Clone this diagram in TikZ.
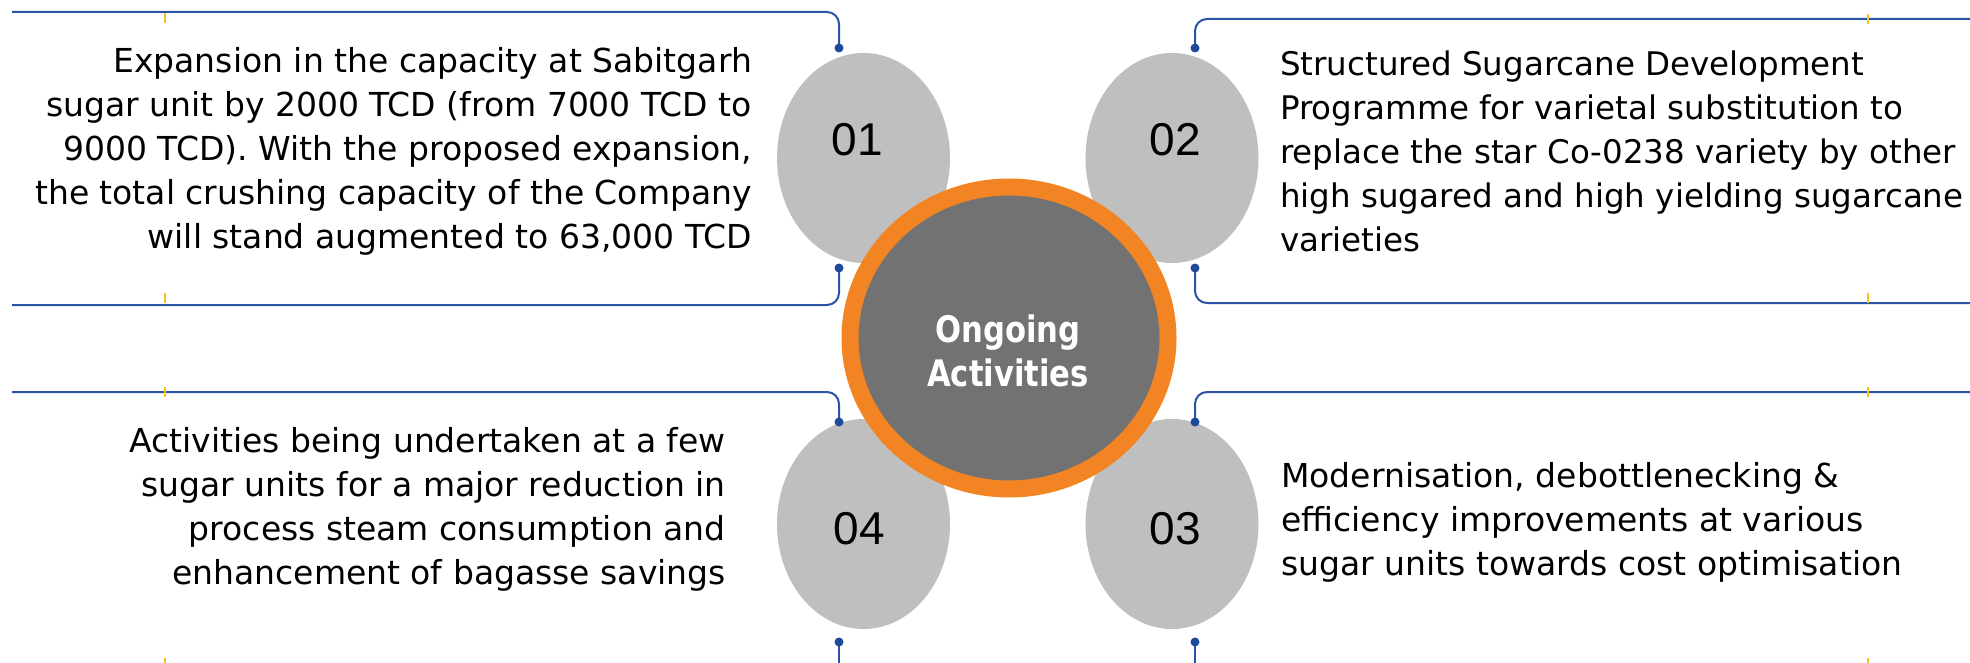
\documentclass[tikz,border=0pt]{standalone}
\usepackage{fontspec}
\setmainfont{DejaVu Sans}
\newfontfamily\numfont{Liberation Sans}
\newfontfamily\hubfont{DejaVu Sans}[FakeStretch=0.84]
\usetikzlibrary{shapes.geometric}

\definecolor{linkblue}{HTML}{2A53A5}
\definecolor{dotblue}{HTML}{1F4A9C}
\definecolor{tickyellow}{HTML}{F5C518}
\definecolor{petalgray}{HTML}{BFBFBF}
\definecolor{hubgray}{HTML}{727272}
\definecolor{huborange}{HTML}{F28423}

\tikzset{
  petal/.style={ellipse,fill=petalgray,minimum width=173pt,minimum height=210pt,inner sep=0pt},
  num/.style={inner sep=0pt,font=\numfont\fontsize{46}{46}\selectfont,text=black},
  hub/.style={ellipse,fill=hubgray,draw=huborange,line width=17pt,minimum width=318pt,
    minimum height=302pt,inner sep=0pt},
  hubtext/.style={inner sep=0pt,text=white,align=center,
    font=\hubfont\bfseries\fontsize{36.5}{44}\selectfont},
  desc/.style={inner sep=0pt,font=\fontsize{33}{44}\selectfont},
  link/.style={linkblue,line width=2pt,rounded corners=12pt},
  tick/.style={tickyellow,line width=1.6pt},
}

\begin{document}
\begin{tikzpicture}[x=1pt,y=-1pt]
\useasboundingbox (0,0) rectangle (1970,663);

% the four petals and the hub on top
\node[petal] (e1) at (863.5,158) {};
\node[petal] (e2) at (1172,158) {};
\node[petal] (e4) at (863.5,524) {};
\node[petal] (e3) at (1172,524) {};
\node[hub] (hub) at (1009,338) {};
\node[hubtext] (hubtxt) at (1008,351) {Ongoing\\Activities};

\node[num] (n1) at (857,140) {01};
\node[num] (n2) at (1175,140) {02};
\node[num] (n4) at (859,529) {04};
\node[num] (n3) at (1175,529) {03};

% pins and the free ends of the brackets
\coordinate (p1a) at (839,48);   \coordinate (p1b) at (839,268);
\coordinate (p2a) at (1195,48);  \coordinate (p2b) at (1195,268);
\coordinate (p4a) at (839,422);  \coordinate (p4b) at (839,642);
\coordinate (p3a) at (1195,422); \coordinate (p3b) at (1195,642);
\coordinate (l1a) at (12,12);    \coordinate (l1b) at (12,305);
\coordinate (r2a) at (1970,19);  \coordinate (r2b) at (1970,303);
\coordinate (l4a) at (12,392);   \coordinate (l4b) at (839,675);
\coordinate (r3a) at (1970,392); \coordinate (r3b) at (1195,675);

\draw[link] (p1a) |- (l1a);
\draw[link] (p1b) |- (l1b);
\draw[link] (p2a) |- (r2a);
\draw[link] (p2b) |- (r2b);
\draw[link] (p4a) |- (l4a);
\draw[link] (p4b) -- (l4b);
\draw[link] (p3a) |- (r3a);
\draw[link] (p3b) -- (r3b);
\foreach \p in {p1a,p1b,p2a,p2b,p4a,p4b,p3a,p3b}
  \fill[dotblue] (\p) circle (4.5pt);

% small yellow marks on the bracket lines
\foreach \x/\y in {165/13,165/293,1868/14,1868/293,165/387,165/658,1868/387,1868/658}
  \draw[tick] (\x,\y) -- (\x,\y+10);

\node[desc,align=right,anchor=north east] (t1) at (752,46.9)
  {Expansion in the capacity at Sabitgarh\\
   sugar unit by 2000 TCD (from 7000 TCD to\\
   9000 TCD). With the proposed expansion,\\
   the total crushing capacity of the Company\\
   will stand augmented to 63,000 TCD};
\node[desc,align=left,anchor=north west,font=\fontsize{32.5}{44}\selectfont] (t2) at (1280,50.3)
  {Structured Sugarcane Development\\
   Programme for varietal substitution to\\
   replace the star Co-0238 variety by other\\
   high sugared and high yielding sugarcane\\
   varieties};
\node[desc,align=right,anchor=north east] (t4) at (726,426.9)
  {Activities being undertaken at a few\\
   sugar units for a major reduction in\\
   process steam consumption and\\
   enhancement of bagasse savings};
\node[desc,align=left,anchor=north west] (t3) at (1281,461.9)
  {Modernisation, debottlenecking \&\\
   efficiency improvements at various\\
   sugar units towards cost optimisation};
\end{tikzpicture}
\end{document}
